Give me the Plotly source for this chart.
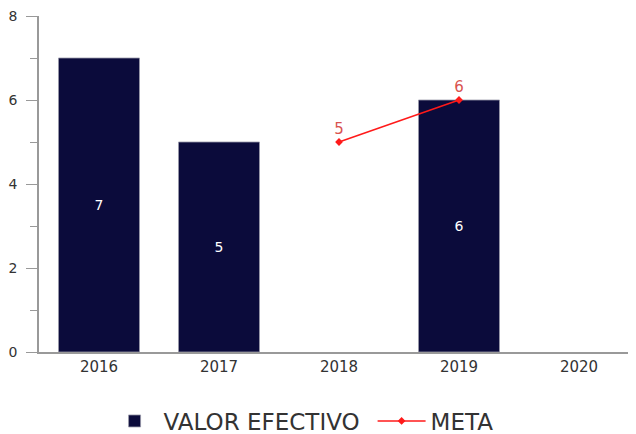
import plotly.graph_objects as go

years = ["2016", "2017", "2018", "2019", "2020"]
valor_efectivo = [7, 5, None, 6, None]
meta = [None, None, 5, 6, None]
y_ticks = [0, 2, 4, 6, 8]

font_family = "DejaVu Sans, Verdana, sans-serif"

fig = go.Figure()
fig.add_trace(go.Bar(
    x=years, y=valor_efectivo, name="VALOR EFECTIVO",
    marker=dict(color="#0b0b3b", line=dict(color="#9999aa", width=0.8)),
    width=0.675,
    text=[str(v) if v is not None else "" for v in valor_efectivo],
    textposition="inside", insidetextanchor="middle",
    textfont=dict(color="white", size=14, family=font_family),
))
fig.add_trace(go.Scatter(
    x=years, y=meta, name="META", mode="lines+markers+text",
    line=dict(color="#ff1a1a", width=1.5),
    marker=dict(symbol="diamond", size=6, color="#ff1a1a"),
    text=[str(v) if v is not None else "" for v in meta],
    textposition="top center",
    textfont=dict(color="#d9534f", size=15, family=font_family),
    connectgaps=False,
))

fig.update_layout(
    width=628, height=426,
    margin=dict(l=31, r=0, t=8, b=82),
    plot_bgcolor="white", paper_bgcolor="white",
    font=dict(family=font_family, color="#333333"),
    showlegend=True,
    legend=dict(orientation="h", xref="container", yref="container",
                x=0.1554, xanchor="left", y=0.0305, yanchor="middle",
                entrywidth=204, entrywidthmode="pixels", itemwidth=48,
                font=dict(size=23, color="#333333")),
    xaxis=dict(range=[-0.5, 4.475], showline=True, linecolor="#999999", linewidth=1.5,
               ticks="", tickfont=dict(size=15, color="#333333"), showgrid=False,
               type="category", automargin=False),
    yaxis=dict(range=[0, 8], tickvals=y_ticks, showline=True, linecolor="#999999",
               linewidth=1.5, ticks="outside", ticklen=11, tickcolor="#999999",
               tickfont=dict(size=14, color="#333333"), showgrid=False, zeroline=False,
               automargin=False, ticklabelstandoff=6, ticklabeloverflow="allow",
               minor=dict(ticks="outside", ticklen=7, dtick=1, tickcolor="#999999",
                          showgrid=False)),
)

fig.write_html("out.html")
